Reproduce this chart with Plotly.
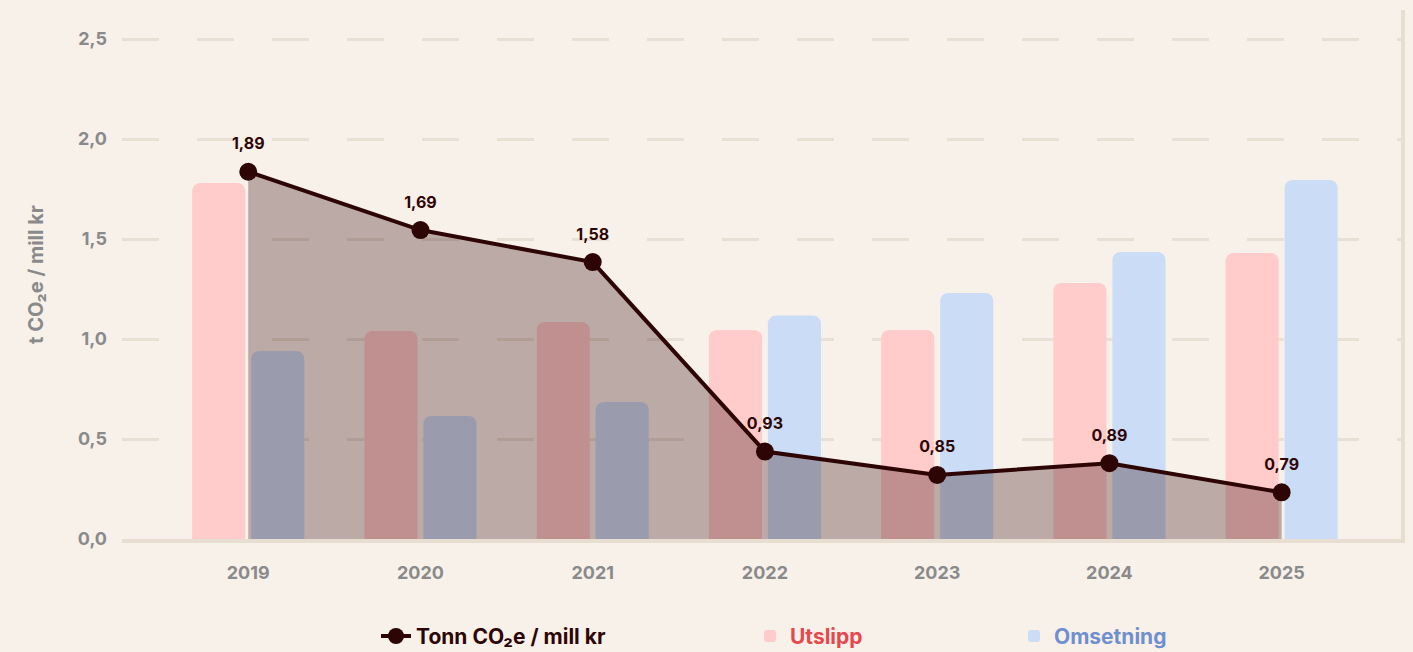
import plotly.graph_objects as go

# ---- data ----
years = ["2019", "2020", "2021", "2022", "2023", "2024", "2025"]
utslipp = [1.78, 1.04, 1.085, 1.045, 1.045, 1.28, 1.43]
omsetning = [0.94, 0.615, 0.685, 1.117, 1.23, 1.435, 1.795]
intensitet = [1.89, 1.69, 1.58, 0.93, 0.85, 0.89, 0.79]
y_ticks = [0, 0.5, 1.0, 1.5, 2.0, 2.5]

name_line = "Tonn CO₂e / mill kr"
name_utslipp = "Utslipp"
name_omsetning = "Omsetning"
y_title = "t CO₂e / mill kr"

BG = "#f8f1ea"
GRID = "#e9e0d5"
AXLINE = "#e8ddd1"
DARK = "#2e0505"
PINK = "#ffcbcb"
BLUE = "#cbdcf7"
GRAY = "#8a8a8a"
FONT = "Inter"

labels = [f"{v:.2f}".replace(".", ",") for v in intensitet]

fig = go.Figure()
fig.add_trace(go.Bar(
    x=years, y=utslipp, name=name_utslipp, marker=dict(color=PINK, line=dict(width=0)),
    legend="legend2", hoverinfo="skip"))
fig.add_trace(go.Bar(
    x=years, y=omsetning, name=name_omsetning, marker=dict(color=BLUE, line=dict(width=0)),
    legend="legend3", hoverinfo="skip"))
# shaded area under the intensity line
fig.add_trace(go.Scatter(
    x=years, y=intensitet, yaxis="y2", mode="lines", line=dict(width=0, color=DARK),
    fill="tozeroy", fillcolor="rgba(46,5,5,0.30)", showlegend=False, hoverinfo="skip"))
# intensity line
fig.add_trace(go.Scatter(
    x=years, y=intensitet, name=name_line, yaxis="y2", mode="lines+markers",
    line=dict(color=DARK, width=4), marker=dict(color=DARK, size=18),
    legend="legend", hoverinfo="skip"))
# value labels
fig.add_trace(go.Scatter(
    x=years, y=intensitet, yaxis="y2", mode="markers+text", text=labels,
    textposition="top center", marker=dict(size=28, color="rgba(0,0,0,0)"),
    textfont=dict(family=FONT, size=16, color=DARK, weight="bold"),
    showlegend=False, hoverinfo="skip", cliponaxis=False))

leg_common = dict(orientation="v", yref="container", yanchor="middle", y=0.024,
                  xanchor="left", bgcolor="rgba(0,0,0,0)", borderwidth=0)

fig.update_layout(
    width=1413, height=652,
    margin=dict(l=122, r=12, t=10, b=113, autoexpand=False),
    paper_bgcolor=BG, plot_bgcolor=BG,
    separators=",.",
    font=dict(family=FONT, size=18, color=GRAY, weight="bold"),
    barmode="group", bargap=0.315, bargroupgap=0.1, barcornerradius=8,
    xaxis=dict(
        type="category", range=[-0.733, 6.693], showgrid=False, zeroline=False,
        showline=True, linecolor=AXLINE, linewidth=4, layer="above traces",
        ticks="", ticklabelstandoff=14, automargin=False,
        tickfont=dict(family=FONT, size=18, color=GRAY, weight="bold")),
    yaxis=dict(
        range=[0, 2.645], tickvals=y_ticks, tickformat=".1f",
        showgrid=True, gridcolor=GRID, gridwidth=3, griddash="37px,38px",
        zeroline=False, showline=False, ticks="", ticklabelstandoff=14,
        automargin=False,
        tickfont=dict(family=FONT, size=18, color=GRAY, weight="bold"),
        title=dict(text=y_title, standoff=28,
                   font=dict(family=FONT, size=20, color=GRAY, weight="bold"))),
    yaxis2=dict(
        overlaying="y", side="right", range=[0.630, 2.445], showgrid=False,
        zeroline=False, showticklabels=False, ticks="", automargin=False,
        showline=True, linecolor=AXLINE, linewidth=4, layer="above traces"),
    legend=dict(**leg_common, x=(376 - 122) / 1279,
                font=dict(family=FONT, size=21, color=DARK, weight="bold")),
    legend2=dict(**leg_common, x=(750 - 122) / 1279,
                 font=dict(family=FONT, size=21, color="#e5484d", weight="bold")),
    legend3=dict(**leg_common, x=(1014 - 122) / 1279,
                 font=dict(family=FONT, size=21, color="#6f8fcf", weight="bold")),
    showlegend=True,
)

fig.write_html("out.html", config={"displayModeBar": False},
               post_script="document.body.style.margin='0';")
